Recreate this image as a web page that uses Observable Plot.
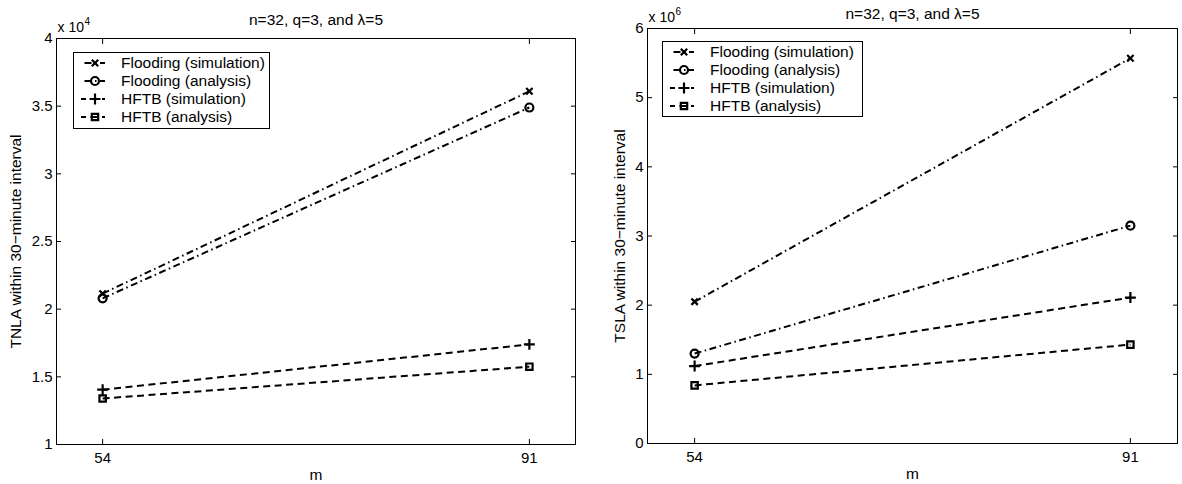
<!DOCTYPE html>
<html><head><meta charset="utf-8">
<script src="https://cdn.jsdelivr.net/npm/d3@7"></script>
<script src="https://cdn.jsdelivr.net/npm/@observablehq/plot@0.6"></script>
<style>
body{margin:0;background:#fff;}
#wrap{position:relative;width:1182px;height:484px;overflow:hidden;font-family:"Liberation Sans",Arial,sans-serif;}
.panel{position:absolute;top:0;}
.legend{position:absolute;}
</style></head><body><div id="wrap"></div>
<script>
// ---- data ----
const m = [54, 91];
const xTicks = [54, 91];
const seriesNames = ["Flooding (simulation)", "Flooding (analysis)", "HFTB (simulation)", "HFTB (analysis)"];
const seriesSymbols = ["times", "circle", "plus", "square"];
const seriesStyles = ["dashdot", "dashdot", "dashed", "dashed"];
const titleText = "n=32, q=3, and \u03bb=5";

const tnlaFloodingSim = [2.115, 3.61];
const tnlaFloodingAna = [2.08, 3.49];
const tnlaHftbSim = [1.405, 1.74];
const tnlaHftbAna = [1.34, 1.575];
const tnlaTicks = [1, 1.5, 2, 2.5, 3, 3.5, 4];
const tnlaExp = "4";
const tnlaLabel = "TNLA within 30\u2212minute interval";

const tslaFloodingSim = [2.05, 5.57];
const tslaFloodingAna = [1.30, 3.15];
const tslaHftbSim = [1.12, 2.11];
const tslaHftbAna = [0.84, 1.43];
const tslaTicks = [0, 1, 2, 3, 4, 5, 6];
const tslaExp = "6";
const tslaLabel = "TSLA within 30\u2212minute interval";

// ---- styles ----
const FONT = "Liberation Sans, Arial, sans-serif";
const dashes = {dashdot: "7,3.5,1.5,3.5", dashed: "7,4.5"};
const symR = {times: 3.0, circle: 4.0, plus: 3.6, square: 3.6};
const fmt = d => String(d);

function panel(opts) {
  const {series, ticks, exp, ylabel, width, ml, mr, mt, mb, ylabDx, titleDy} = opts;
  const marks = [];
  series.forEach((vals, i) => {
    const data = m.map((x, j) => ({x, y: vals[j]}));
    marks.push(Plot.line(data, {x: "x", y: "y", stroke: "black", strokeWidth: 2,
      strokeDasharray: dashes[seriesStyles[i]], strokeLinecap: "butt"}));
    marks.push(Plot.dot(data, {x: "x", y: "y", symbol: seriesSymbols[i], r: symR[seriesSymbols[i]],
      stroke: "black", strokeWidth: 2.2, fill: "none"}));
  });
  marks.push(
    Plot.frame({stroke: "black", strokeWidth: 1}),
    Plot.axisY(ticks, {anchor: "left", tickSize: -5, tickPadding: 9, tickFormat: fmt, label: null, fontSize: 15}),
    Plot.axisY(ticks, {anchor: "right", tickSize: -5, tickFormat: () => "", label: null}),
    Plot.axisX(xTicks, {anchor: "bottom", tickSize: -5, tickPadding: 13, tickFormat: fmt, label: null, fontSize: 15}),
    Plot.axisX(xTicks, {anchor: "top", tickSize: -5, tickFormat: () => "", label: null}),
    Plot.text([ylabel], {frameAnchor: "left", rotate: -90, dx: ylabDx, textAnchor: "middle", lineAnchor: "middle", fontSize: 15.5}),
    Plot.text(["m"], {frameAnchor: "bottom", dy: 31, lineAnchor: "middle", fontSize: 15.5}),
    Plot.text([titleText], {frameAnchor: "top", dy: titleDy, lineAnchor: "middle", fontSize: 15.5}),
    Plot.text(["x 10"], {frameAnchor: "top-left", textAnchor: "start", lineAnchor: "middle", dx: 1, dy: -11, fontSize: 14}),
    Plot.text([exp], {frameAnchor: "top-left", textAnchor: "start", lineAnchor: "middle", dx: 28, dy: -17, fontSize: 10})
  );
  return Plot.plot({
    width, height: 484,
    marginLeft: ml, marginRight: mr, marginTop: mt, marginBottom: mb,
    style: {fontFamily: FONT, fontSize: "15px", background: "white", color: "black", overflow: "visible"},
    x: {domain: [50, 95], label: null},
    y: {domain: [ticks[0], ticks[ticks.length - 1]], label: null},
    marks
  });
}

function legend(x, y, w, h) {
  const svg = d3.create("svg").attr("class", "legend").attr("width", w + 2).attr("height", h + 2)
    .style("left", (x - 1) + "px").style("top", (y - 1) + "px");
  svg.append("rect").attr("x", 1.5).attr("y", 1.5).attr("width", w - 1).attr("height", h - 1)
    .attr("fill", "white").attr("stroke", "black").attr("stroke-width", 1);
  const symMap = {times: d3.symbolTimes, circle: d3.symbolCircle, plus: d3.symbolPlus, square: d3.symbolSquare};
  seriesNames.forEach((name, i) => {
    const cy = 12 + i * 18;
    const style = seriesStyles[i];
    svg.append("line").attr("x1", 9).attr("x2", 33).attr("y1", cy).attr("y2", cy)
      .attr("stroke", "black").attr("stroke-width", 2).attr("stroke-dasharray", dashes[style])
      .attr("stroke-dashoffset", style === "dashdot" ? 12 : 2);
    const r = symR[seriesSymbols[i]];
    svg.append("path").attr("transform", `translate(23,${cy})`)
      .attr("d", d3.symbol(symMap[seriesSymbols[i]], Math.PI * r * r)())
      .attr("fill", "none").attr("stroke", "black").attr("stroke-width", 2.2);
    svg.append("text").attr("x", 49).attr("y", cy).attr("dy", "0.35em")
      .attr("font-family", FONT).attr("font-size", 15.5).text(name);
  });
  return svg.node();
}

const wrap = document.getElementById("wrap");
const left = panel({series: [tnlaFloodingSim, tnlaFloodingAna, tnlaHftbSim, tnlaHftbAna], ticks: tnlaTicks, exp: tnlaExp,
  ylabel: tnlaLabel, width: 600, ml: 56, mr: 25, mt: 38, mb: 40, ylabDx: -40, titleDy: -18});
left.classList.add("panel"); left.style.left = "0px";
const right = panel({series: [tslaFloodingSim, tslaFloodingAna, tslaHftbSim, tslaHftbAna], ticks: tslaTicks, exp: tslaExp,
  ylabel: tslaLabel, width: 582, ml: 47, mr: 5, mt: 28, mb: 41, ylabDx: -27, titleDy: -14});
right.classList.add("panel"); right.style.left = "600px";
wrap.appendChild(left);
wrap.appendChild(right);
wrap.appendChild(legend(73, 52, 197, 77));
wrap.appendChild(legend(662, 41, 201, 76));
</script>
</body></html>
